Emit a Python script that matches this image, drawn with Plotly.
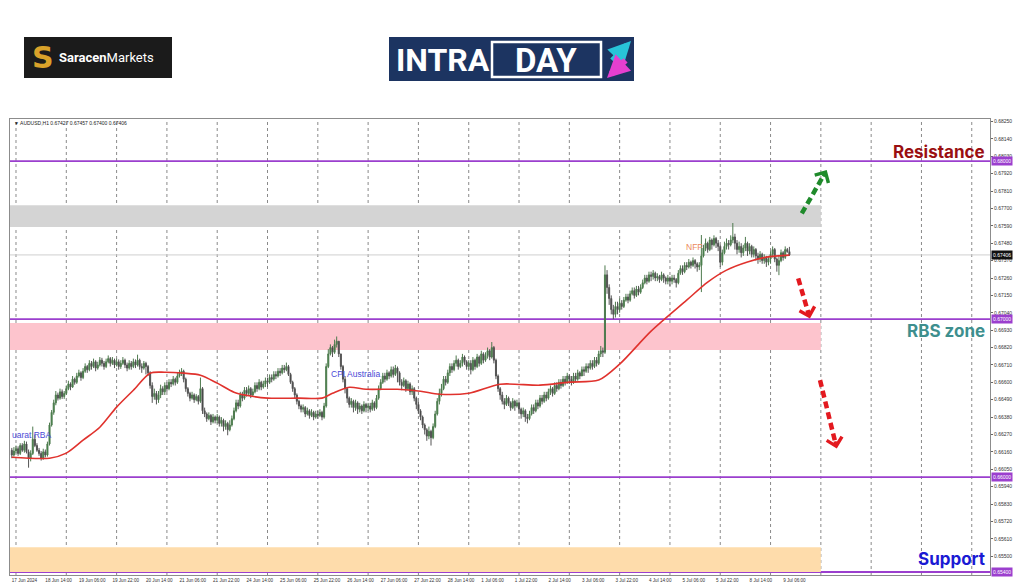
import pandas as pd
import plotly.graph_objects as go

# ---------------- data (prices in 1e-5 units) ----------------
SYMBOL = "AUDUSD,H1"
FIRST_BAR = "2024-06-17 22:00"
FIRST_OPEN = 66170
SCALE = 1e-5

closes = [
    66140, 66165,  # 17 Jun
    66180, 66150, 66200, 66170, 66210, 66160, 66120, 66150, 66240, 66200, 66170, 66150,  # 18 Jun
    66120, 66160, 66140, 66210, 66330, 66410, 66470, 66520, 66500, 66540, 66510, 66530,
    66560, 66590, 66570, 66620, 66600, 66640, 66660, 66630, 66670, 66700, 66680, 66720,  # 19 Jun
    66700, 66730, 66690, 66710, 66740, 66720, 66700, 66730, 66750, 66720, 66740, 66710,
    66730, 66700, 66720, 66740, 66710, 66690, 66720, 66700, 66730, 66710, 66740, 66700,  # 20 Jun
    66690, 66720, 66700, 66660, 66580, 66510, 66530, 66490, 66520, 66560, 66540, 66580,
    66560, 66600, 66590, 66620, 66600, 66640, 66660, 66670, 66620, 66560, 66530, 66500,  # 21 Jun
    66520, 66490, 66510, 66480, 66560, 66420, 66400, 66370, 66390, 66350, 66380, 66360,
    66380, 66340, 66360, 66320, 66340, 66300, 66330, 66370, 66420, 66470, 66450, 66520,  # 24 Jun
    66500, 66550, 66530, 66560, 66520, 66540, 66580, 66560, 66600, 66570, 66590, 66610,
    66600, 66630, 66620, 66650, 66640, 66670, 66660, 66690, 66680, 66700, 66650, 66600,  # 25 Jun
    66560, 66520, 66480, 66450, 66430, 66440, 66400, 66420, 66390, 66410, 66380, 66400,
    66390, 66410, 66380, 66450, 66700, 66780, 66820, 66790, 66840, 66860, 66780, 66700,  # 26 Jun
    66620, 66560, 66500, 66460, 66480, 66440, 66470, 66430, 66450, 66420, 66460, 66440,
    66450, 66430, 66470, 66440, 66500, 66560, 66600, 66640, 66620, 66660, 66640, 66680,  # 27 Jun
    66650, 66690, 66660, 66600, 66580, 66610, 66560, 66590, 66540, 66560, 66500, 66460,
    66420, 66380, 66330, 66300, 66260, 66290, 66250, 66320, 66400, 66480, 66530, 66560,  # 28 Jun
    66620, 66600, 66660, 66700, 66680, 66720, 66740, 66700, 66720, 66760, 66730, 66700,
    66720, 66680, 66740, 66700, 66760, 66720, 66780, 66740, 66770, 66800, 66760, 66820,  # 1 Jul
    66740, 66640, 66560, 66520, 66480, 66460, 66500, 66470, 66440, 66480, 66450, 66470,
    66430, 66400, 66420, 66380, 66370, 66400, 66440, 66420, 66470, 66450, 66500, 66480,  # 2 Jul
    66520, 66500, 66540, 66560, 66530, 66580, 66560, 66600, 66580, 66620, 66600, 66640,
    66620, 66600, 66640, 66620, 66660, 66640, 66680, 66670, 66700, 66690, 66720, 66700,  # 3 Jul
    66740, 66720, 66780, 66800, 66790, 67280, 67200, 67130, 67060, 67030, 67080, 67060,
    67100, 67080, 67120, 67140, 67120, 67160, 67180, 67150, 67190, 67170, 67200, 67230,  # 4 Jul
    67260, 67240, 67280, 67270, 67290, 67260, 67270, 67250, 67280, 67260, 67240, 67260,
    67240, 67260, 67250, 67230, 67290, 67320, 67300, 67340, 67330, 67360, 67340, 67370,  # 5 Jul
    67350, 67330, 67340, 67400, 67450, 67480, 67440, 67500, 67470, 67510, 67480, 67460,
    67360, 67420, 67460, 67480, 67470, 67500, 67520, 67480, 67440, 67460, 67420, 67450,  # 8 Jul
    67480, 67430, 67460, 67410, 67440, 67400, 67380, 67410, 67370, 67390, 67360, 67380,
    67410, 67440, 67380, 67340, 67370, 67420, 67390, 67440, 67427, 67406,  # 9 Jul
]

highs = [
    66185, 66190,
    66200, 66195, 66215, 66215, 66230, 66225, 66175, 66170, 66320, 66270, 66215, 66185,
    66165, 66180, 66175, 66225, 66345, 66425, 66490, 66545, 66535, 66560, 66555, 66545,
    66580, 66610, 66600, 66640, 66630, 66660, 66680, 66670, 66690, 66720, 66710, 66740,
    66735, 66750, 66740, 66730, 66760, 66755, 66735, 66750, 66770, 66760, 66760, 66750,
    66750, 66745, 66740, 66760, 66750, 66725, 66740, 66735, 66750, 66745, 66775, 66750,
    66720, 66735, 66730, 66710, 66670, 66600, 66560, 66545, 66545, 66585, 66575, 66600,
    66600, 66620, 66620, 66640, 66630, 66660, 66680, 66690, 66680, 66630, 66570, 66540,
    66540, 66530, 66525, 66520, 66630, 66570, 66440, 66410, 66410, 66400, 66400, 66390,
    66400, 66390, 66380, 66370, 66360, 66350, 66360, 66390, 66440, 66490, 66490, 66540,
    66540, 66570, 66570, 66580, 66570, 66560, 66600, 66600, 66620, 66610, 66610, 66630,
    66630, 66650, 66650, 66670, 66670, 66690, 66690, 66710, 66710, 66725, 66710, 66660,
    66610, 66570, 66530, 66490, 66460, 66460, 66450, 66440, 66430, 66430, 66420, 66420,
    66420, 66430, 66420, 66470, 66720, 66810, 66840, 66830, 66870, 66890, 66860, 66780,
    66710, 66640, 66570, 66510, 66500, 66490, 66490, 66480, 66470, 66460, 66480, 66470,
    66470, 66470, 66490, 66480, 66520, 66580, 66620, 66660, 66660, 66680, 66670, 66700,
    66700, 66710, 66700, 66670, 66620, 66630, 66620, 66610, 66600, 66580, 66570, 66510,
    66480, 66430, 66390, 66340, 66310, 66320, 66300, 66340, 66420, 66500, 66560, 66590,
    66640, 66640, 66680, 66720, 66720, 66740, 66770, 66750, 66740, 66780, 66770, 66740,
    66740, 66740, 66760, 66750, 66780, 66770, 66800, 66790, 66790, 66820, 66810, 66855,
    66830, 66750, 66650, 66570, 66540, 66500, 66520, 66510, 66480, 66500, 66490, 66490,
    66480, 66440, 66440, 66430, 66400, 66420, 66460, 66460, 66490, 66490, 66520, 66520,
    66540, 66540, 66560, 66580, 66570, 66600, 66600, 66620, 66620, 66640, 66640, 66660,
    66650, 66640, 66660, 66660, 66680, 66670, 66700, 66700, 66720, 66720, 66740, 66740,
    66760, 66760, 66800, 66830, 66820, 67340, 67310, 67220, 67150, 67090, 67110, 67110,
    67130, 67120, 67140, 67160, 67160, 67180, 67200, 67200, 67210, 67210, 67220, 67250,
    67280, 67280, 67300, 67300, 67310, 67300, 67290, 67280, 67300, 67290, 67270, 67280,
    67270, 67280, 67280, 67260, 67310, 67340, 67340, 67360, 67360, 67380, 67370, 67390,
    67380, 67360, 67360, 67532, 67470, 67510, 67490, 67520, 67510, 67530, 67520, 67500,
    67470, 67440, 67490, 67510, 67500, 67530, 67608, 67540, 67500, 67490, 67480, 67470,
    67520, 67490, 67480, 67470, 67460, 67450, 67420, 67430, 67420, 67410, 67400, 67400,
    67430, 67460, 67450, 67390, 67400, 67440, 67430, 67460, 67450, 67457,
]

lows = [
    66120, 66130,
    66150, 66135, 66140, 66160, 66155, 66150, 66060, 66100, 66140, 66190, 66160, 66135,
    66105, 66110, 66125, 66130, 66200, 66320, 66395, 66455, 66485, 66490, 66495, 66495,
    66520, 66550, 66550, 66565, 66585, 66590, 66630, 66610, 66620, 66660, 66660, 66670,
    66680, 66690, 66670, 66680, 66700, 66700, 66680, 66690, 66720, 66700, 66710, 66690,
    66700, 66680, 66685, 66710, 66690, 66670, 66680, 66680, 66690, 66690, 66700, 66680,
    66660, 66680, 66650, 66640, 66560, 66470, 66490, 66460, 66470, 66500, 66520, 66520,
    66540, 66550, 66570, 66580, 66580, 66590, 66630, 66640, 66600, 66540, 66510, 66480,
    66490, 66470, 66480, 66460, 66470, 66400, 66380, 66350, 66360, 66330, 66340, 66340,
    66340, 66320, 66320, 66290, 66300, 66265, 66290, 66320, 66360, 66410, 66430, 66440,
    66480, 66490, 66510, 66520, 66500, 66510, 66530, 66540, 66550, 66550, 66560, 66570,
    66570, 66590, 66600, 66610, 66620, 66630, 66640, 66650, 66660, 66670, 66640, 66590,
    66540, 66500, 66460, 66430, 66410, 66410, 66380, 66390, 66370, 66380, 66360, 66370,
    66370, 66380, 66360, 66370, 66440, 66690, 66770, 66760, 66780, 66820, 66760, 66680,
    66600, 66530, 66470, 66440, 66440, 66410, 66420, 66400, 66410, 66400, 66410, 66410,
    66420, 66410, 66420, 66420, 66430, 66490, 66550, 66590, 66600, 66610, 66620, 66630,
    66630, 66640, 66600, 66580, 66550, 66570, 66540, 66550, 66520, 66520, 66480, 66430,
    66400, 66360, 66310, 66270, 66230, 66240, 66200, 66240, 66310, 66390, 66460, 66510,
    66550, 66580, 66590, 66640, 66660, 66670, 66700, 66680, 66690, 66700, 66710, 66680,
    66680, 66650, 66670, 66680, 66690, 66700, 66710, 66720, 66730, 66750, 66740, 66750,
    66720, 66620, 66540, 66490, 66460, 66430, 66450, 66450, 66420, 66430, 66420, 66440,
    66400, 66370, 66380, 66350, 66340, 66360, 66390, 66400, 66410, 66430, 66440, 66460,
    66470, 66480, 66490, 66520, 66510, 66520, 66540, 66550, 66560, 66570, 66580, 66590,
    66590, 66580, 66590, 66600, 66610, 66620, 66640, 66640, 66660, 66660, 66680, 66680,
    66690, 66700, 66710, 66760, 66760, 66780, 67160, 67090, 67030, 67000, 67010, 67030,
    67040, 67060, 67070, 67110, 67100, 67110, 67150, 67130, 67140, 67150, 67160, 67190,
    67220, 67220, 67230, 67240, 67250, 67240, 67240, 67230, 67240, 67230, 67220, 67220,
    67210, 67220, 67230, 67200, 67220, 67280, 67280, 67290, 67310, 67320, 67320, 67330,
    67320, 67300, 67310, 67171, 67390, 67430, 67420, 67430, 67440, 67460, 67450, 67430,
    67330, 67340, 67410, 67440, 67440, 67460, 67480, 67440, 67410, 67420, 67390, 67400,
    67430, 67400, 67410, 67390, 67390, 67370, 67350, 67360, 67350, 67350, 67330, 67340,
    67350, 67390, 67360, 67300, 67278, 67360, 67370, 67380, 67420, 67400,
]

# moving average (red line): bar index -> value
ma_idx = [0, 18, 26, 34, 42, 50, 58, 66, 73, 82, 90, 98, 106, 114, 122, 137, 148,
          153, 161, 169, 184, 195, 204, 218, 233, 252, 266, 280, 290, 305, 322, 332,
          341, 351, 360, 371]
ma_val = [66126, 66120, 66152, 66234, 66316, 66443, 66550, 66658, 66664, 66658, 66645,
          66595, 66538, 66513, 66500, 66500, 66500, 66531, 66569, 66556, 66556, 66544,
          66525, 66531, 66588, 66582, 66601, 66614, 66715, 66924, 67120, 67234, 67310,
          67361, 67392, 67405]

y_ticks = [0.68250, 0.68140, 0.68030, 0.67920, 0.67810, 0.67700, 0.67590, 0.67480,
           0.67370, 0.67260, 0.67150, 0.67040, 0.66930, 0.66820, 0.66710, 0.66600,
           0.66490, 0.66380, 0.66270, 0.66160, 0.66050, 0.65940, 0.65830, 0.65720,
           0.65610, 0.65500]
levels = [0.68000, 0.67000, 0.66000, 0.65400]
zone_lo = [0.67582, 0.66804, 0.65400]
zone_hi = [0.67721, 0.66976, 0.65557]
ZONE_END = "2024-07-10 00:00"

event_text = ["uarat RBA", "CPI Australia", "NFP"]
event_bar = [-0.8, 151.5, 320.5]
event_price = [0.66266, 0.66652, 0.67456]

level_names = ["Resistance", "RBS zone", "Support"]
level_name_price = [0.68057, 0.66924, 0.65481]

# ---------------- layout geometry ----------------
W, H = 1024, 587
ML, MR, MT, MB = 10, 34, 119, 12
PW, PH = W - ML - MR, H - MT - MB
X_MIN, X_MAX = -0.86, 466.7
Y_MIN, Y_MAX = 0.65381, 0.68266
PX_PER_BAR = PW / (X_MAX - X_MIN)
PX_PER_PRICE = PH / (Y_MAX - Y_MIN)


def px_x(px):
    return (px - ML) / PW


def px_y(py):
    return (H - MB - py) / PH


def bar_times(start, count):
    out, t = [], pd.Timestamp(start)
    while len(out) < count:
        if t.weekday() < 5:
            out.append(t)
        t += pd.Timedelta(hours=1)
    return out


n = len(closes)
timeline = bar_times(FIRST_BAR, 480)
idx = list(range(n))
c = [v * SCALE for v in closes]
o = [FIRST_OPEN * SCALE] + c[:-1]
h = [max(a, b, d) for a, b, d in zip([v * SCALE for v in highs[:n]], o, c)]
l = [min(a, b, d) for a, b, d in zip([v * SCALE for v in lows[:n]], o, c)]

# x tick labels (MT4 style: text starts at the bar)
CW = {"J": .5, "u": .556, "n": .556, "l": .222, " ": .278, ":": .278}
XFS = 4.6


def text_w(s):
    return sum(CW.get(ch, .556) for ch in s) * XFS


lab_idx = [0] + list(range(16, n, 16))
lab_txt = []
for i in lab_idx:
    t = timeline[i]
    if i == 0:
        lab_txt.append(f"{t.day} {t.strftime('%b')} {t.year}")
    else:
        lab_txt.append(f"{t.day} {t.strftime('%b')} {t.strftime('%H:%M')}")
lab_pos = [i + text_w(s) / 2 / PX_PER_BAR for i, s in zip(lab_idx, lab_txt)]

day_starts = [i for i, t in enumerate(timeline) if t.hour == 0 and X_MIN <= i <= X_MAX]
zone_end = timeline.index(pd.Timestamp(ZONE_END))

fig = go.Figure()
fig.add_trace(go.Candlestick(
    x=idx, open=o, high=h, low=l, close=c,
    increasing=dict(line=dict(color="#4e7a4e", width=1), fillcolor="#2f8a3a"),
    decreasing=dict(line=dict(color="#555555", width=1), fillcolor="#262626"),
    whiskerwidth=0, hoverinfo="skip", showlegend=False))
fig.add_trace(go.Scatter(
    x=ma_idx, y=[v * SCALE for v in ma_val], mode="lines",
    line=dict(color="#e0322d", width=1.6, shape="spline", smoothing=0.8),
    hoverinfo="skip", showlegend=False))

shapes = []
zone_cols = ["#d4d4d4", "#fdc4cd", "#fedcab"]
for lo, hi, col in zip(zone_lo, zone_hi, zone_cols):
    shapes.append(dict(type="rect", xref="x", yref="y", x0=X_MIN, x1=zone_end,
                       y0=lo, y1=hi, fillcolor=col, line=dict(width=0), layer="below"))
for d in day_starts:
    shapes.append(dict(type="line", xref="x", yref="paper", x0=d, x1=d, y0=0, y1=1,
                       line=dict(color="#8a8a8a", width=1, dash="dot"), layer="below"))
shapes.append(dict(type="line", xref="paper", yref="y", x0=0, x1=1, y0=c[-1], y1=c[-1],
                   line=dict(color="#cfcfcf", width=1), layer="below"))
for lv in levels:
    shapes.append(dict(type="line", xref="paper", yref="y", x0=0, x1=1, y0=lv, y1=lv,
                       line=dict(color="#9b3fce", width=1.8), layer="below"))

annotations = []
# dashed scenario arrows
arrows = [
    (376.9, 0.67669, 388.8, 0.67943, "#1f8a2b"),
    (375.2, 0.67257, 380.8, 0.67004, "#e3191f"),
    (385.6, 0.66614, 393.6, 0.66181, "#e3191f"),
]
for tx, ty, hx, hy, col in arrows:
    dxp = (tx - hx) * PX_PER_BAR
    dyp = -(ty - hy) * PX_PER_PRICE
    ln = (dxp ** 2 + dyp ** 2) ** 0.5
    ux, uy = dxp / ln, dyp / ln
    ex = hx + ux * 5 / PX_PER_BAR
    ey = hy - uy * 5 / PX_PER_PRICE
    shapes.append(dict(type="line", xref="x", yref="y", x0=tx, y0=ty, x1=ex, y1=ey,
                       line=dict(color=col, width=4.5, dash="7px,4px")))
    annotations.append(dict(x=hx, y=hy, xref="x", yref="y", text="", showarrow=True,
                            ax=ux * 9, ay=uy * 9, arrowhead=4, arrowwidth=3.2,
                            arrowsize=0.95, arrowcolor=col, standoff=0))

# level labels in plot
lvl_cols = ["#9a0f12", "#3e8f8e", "#1a1ad4"]
for txt, py, col in zip(level_names, level_name_price, lvl_cols):
    annotations.append(dict(x=px_x(987), y=py, xref="paper", yref="y", text=f"<b>{txt}</b>",
                            showarrow=False, xanchor="right", yanchor="middle",
                            font=dict(family="Inter", size=17, color=col, weight=900)))

# event labels
ev_cols = ["#4a4ad6", "#4a4ad6", "#ec8a5c"]
for txt, bx, py, col in zip(event_text, event_bar, event_price, ev_cols):
    annotations.append(dict(x=bx, y=py, xref="x", yref="y", text=txt, showarrow=False,
                            xanchor="left", yanchor="middle",
                            font=dict(family="Liberation Sans", size=8.5, color=col)))

# axis price boxes
for lv in levels:
    annotations.append(dict(x=1, y=lv, xref="paper", yref="y", text=f"{lv:.5f}",
                            showarrow=False, xanchor="left", yanchor="middle", xshift=1,
                            bgcolor="#9b3fce", borderpad=1,
                            font=dict(family="Liberation Sans", size=5, color="white")))
annotations.append(dict(x=1, y=c[-1], xref="paper", yref="y", text=f"{c[-1]:.5f}",
                        showarrow=False, xanchor="left", yanchor="middle", xshift=1,
                        bgcolor="#111111", borderpad=1,
                        font=dict(family="Liberation Sans", size=5, color="white")))

# chart header
annotations.append(dict(x=px_x(12), y=px_y(123), xref="paper", yref="paper",
                        text=f"▼ {SYMBOL} {o[-1]:.5f} {h[-1]:.5f} {l[-1]:.5f} {c[-1]:.5f}",
                        showarrow=False, xanchor="left", yanchor="middle",
                        font=dict(family="Liberation Sans", size=5, color="#222")))

# ---- logos ----
shapes.append(dict(type="rect", xref="paper", yref="paper", x0=px_x(24), x1=px_x(172),
                   y0=px_y(78), y1=px_y(37), fillcolor="#1b1b1b", line=dict(width=0)))
annotations.append(dict(x=px_x(43), y=px_y(58), xref="paper", yref="paper", text="<b>S</b>",
                        showarrow=False, xanchor="center", yanchor="middle",
                        font=dict(family="DejaVu Sans", size=30, color="#d9a22a")))
annotations.append(dict(x=px_x(57), y=px_y(58), xref="paper", yref="paper",
                        text="<b>Saracen</b>Markets", showarrow=False, xanchor="left",
                        yanchor="middle", font=dict(family="Roboto", size=13, color="white")))

shapes.append(dict(type="rect", xref="paper", yref="paper", x0=px_x(389), x1=px_x(634),
                   y0=px_y(81), y1=px_y(37), fillcolor="#1c3461", line=dict(width=0)))
shapes.append(dict(type="rect", xref="paper", yref="paper", x0=px_x(492), x1=px_x(601),
                   y0=px_y(77), y1=px_y(42), fillcolor="rgba(0,0,0,0)",
                   line=dict(color="white", width=2.5)))
annotations.append(dict(x=px_x(394), y=px_y(60), xref="paper", yref="paper", text="<b>INTRA</b>",
                        showarrow=False, xanchor="left", yanchor="middle",
                        font=dict(family="Roboto", size=32, color="white")))
annotations.append(dict(x=px_x(546), y=px_y(60), xref="paper", yref="paper", text="<b>DAY</b>",
                        showarrow=False, xanchor="center", yanchor="middle",
                        font=dict(family="Roboto", size=33, color="white")))
annotations.append(dict(x=px_x(631), y=px_y(41), xref="paper", yref="paper", text="",
                        showarrow=True, ax=-20, ay=21, arrowhead=2, arrowwidth=6,
                        arrowsize=0.75, arrowcolor="#28c4d8", standoff=0))
annotations.append(dict(x=px_x(607), y=px_y(78), xref="paper", yref="paper", text="",
                        showarrow=True, ax=20, ay=-19, arrowhead=2, arrowwidth=6,
                        arrowsize=0.75, arrowcolor="#e53fcf", standoff=0))

fig.update_layout(
    width=W, height=H, margin=dict(l=ML, r=MR, t=MT, b=MB, autoexpand=False),
    paper_bgcolor="white", plot_bgcolor="white", showlegend=False,
    shapes=shapes, annotations=annotations,
    xaxis=dict(range=[X_MIN, X_MAX], tickvals=lab_pos, ticktext=lab_txt, tickangle=0,
               showgrid=False, zeroline=False, showline=True, mirror=True,
               linecolor="#8c8c8c", linewidth=1, ticks="", automargin=False,
               tickfont=dict(family="Liberation Sans", size=XFS, color="#333"),
               rangeslider=dict(visible=False), fixedrange=True),
    yaxis=dict(range=[Y_MIN, Y_MAX], side="right", tickvals=y_ticks,
               ticktext=[f"{v:.5f}" for v in y_ticks], showgrid=False, zeroline=False,
               showline=True, mirror=True, linecolor="#8c8c8c", linewidth=1,
               ticks="outside", ticklen=2, tickcolor="#666", automargin=False,
               tickfont=dict(family="Liberation Sans", size=5, color="#333"),
               fixedrange=True),
)

fig.write_html("out.html", config={"displayModeBar": False},
               post_script="document.body.style.margin='0px';document.body.style.overflow='hidden';")
